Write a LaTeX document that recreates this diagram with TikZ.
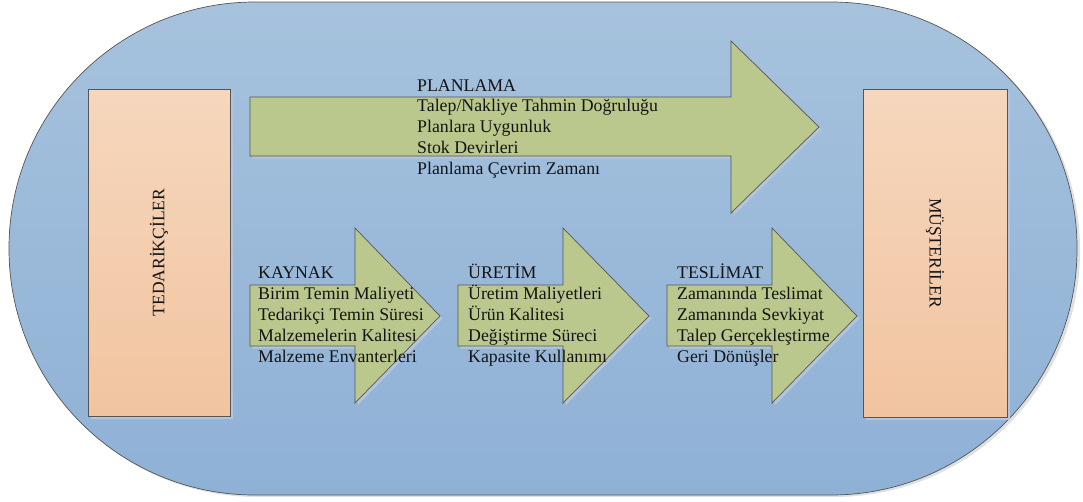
\documentclass[tikz,border=0pt]{standalone}
\usepackage{fontspec}
\setmainfont{Liberation Serif}

\definecolor{bgtop}{RGB}{166,194,221}
\definecolor{bgbot}{RGB}{143,177,214}
\definecolor{arrowgreen}{RGB}{186,200,141}
\definecolor{peachtop}{RGB}{246,215,189}
\definecolor{peachbot}{RGB}{241,196,160}
\definecolor{edgegray}{RGB}{85,85,85}
\definecolor{dropshade}{RGB}{180,197,219}
\definecolor{inktext}{RGB}{20,20,20}

\begin{document}
\begin{tikzpicture}[x=1pt,y=-1pt,
  outline/.style={draw=edgegray, line width=0.7pt},
  arrowbody/.style={outline, fill=arrowgreen},
  partybox/.style={outline, top color=peachtop, bottom color=peachbot, inner sep=0pt},
  boxshadow/.style={fill=dropshade},
  metric/.style={font=\fontsize{17.8}{21}\selectfont, text=inktext, inner sep=0pt, anchor=base west},
  sidelabel/.style={font=\fontsize{17.5}{21}\selectfont, text=inktext, inner sep=0pt}
]
\useasboundingbox (0,0) rectangle (1083,501);

% outer stadium with a soft shadow
\fill[black!12, rounded corners=246pt] (11,4) rectangle (1080,497);
\draw[outline, top color=bgtop, bottom color=bgbot, rounded corners=246pt] (9,2) rectangle (1077,495);

% supplier and customer boxes
\fill[boxshadow] (91,92) rectangle (233,419);
\fill[boxshadow] (866,92) rectangle (1010,420);
\node[partybox, minimum width=142pt, minimum height=327pt] (tedarik) at (159,252.5) {};
\node[partybox, minimum width=144pt, minimum height=328pt] (musteri) at (935,253) {};
\node[sidelabel, rotate=90] (tedariklbl) at (tedarik.center) {TEDARİKÇİLER};
\node[sidelabel, rotate=-90] (musterilbl) at (musteri.center) {MÜŞTERİLER};

% planning arrow
\fill[boxshadow] (252.5,99.5) -- (733.5,99.5) -- (733.5,43.5) -- (821.5,129.5) -- (733.5,215.5) -- (733.5,158.5) -- (252.5,158.5) -- cycle;
\draw[arrowbody] (250,97) -- (731,97) -- (731,41) -- (819,127) -- (731,213) -- (731,156) -- (250,156) -- cycle;

% source, make and deliver arrows
\foreach \xa/\xb/\xc in {250/355/440, 458/563/649, 667/772/857}{
  \fill[boxshadow] (\xa+2.5,287.5) -- (\xb+2.5,287.5) -- (\xb+2.5,230.5) -- (\xc+2.5,318.5) -- (\xb+2.5,405.5) -- (\xb+2.5,348.5) -- (\xa+2.5,348.5) -- cycle;
  \draw[arrowbody] (\xa,285) -- (\xb,285) -- (\xb,228) -- (\xc,316) -- (\xb,403) -- (\xb,346) -- (\xa,346) -- cycle;
}

% metric lists
\foreach \t [count=\i] in {PLANLAMA, Talep/Nakliye Tahmin Doğruluğu, Planlara Uygunluk, Stok Devirleri, Planlama Çevrim Zamanı}
  \node[metric] (plan\i) at (417,{91+20.8*(\i-1)}) {\t};
\foreach \t [count=\i] in {KAYNAK, Birim Temin Maliyeti, Tedarikçi Temin Süresi, Malzemelerin Kalitesi, Malzeme Envanterleri}
  \node[metric] (kaynak\i) at (258,{278.5+21.1*(\i-1)}) {\t};
\foreach \t [count=\i] in {ÜRETİM, Üretim Maliyetleri, Ürün Kalitesi, Değiştirme Süreci, Kapasite Kullanımı}
  \node[metric] (uretim\i) at (468,{278.5+21.1*(\i-1)}) {\t};
\foreach \t [count=\i] in {TESLİMAT, Zamanında Teslimat, Zamanında Sevkiyat, Talep Gerçekleştirme, Geri Dönüşler}
  \node[metric] (teslim\i) at (677,{278.5+21.1*(\i-1)}) {\t};
\end{tikzpicture}
\end{document}
